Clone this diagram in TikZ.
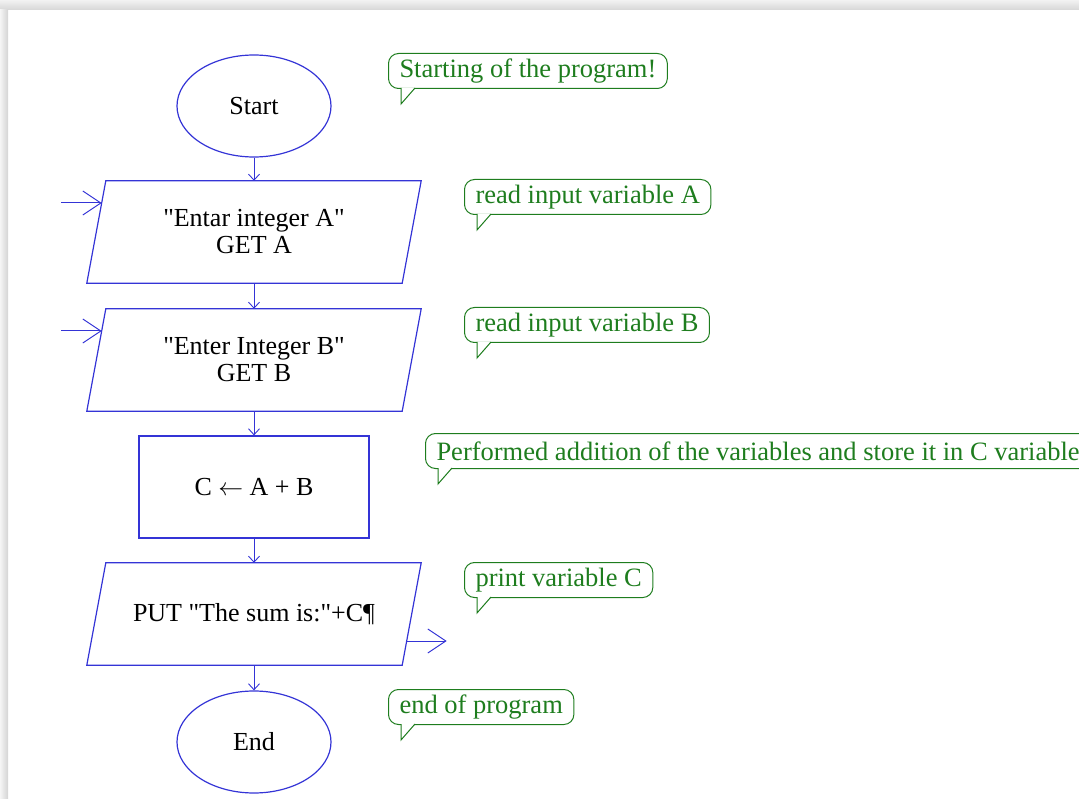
\documentclass[tikz,border=0pt]{standalone}
\usepackage{fontspec}
\setmainfont{Liberation Serif}[Ligatures=TeXOff]
\usepackage{xcolor}
\usepackage{tikz}
\usetikzlibrary{arrows.meta}
\usetikzlibrary{shapes.geometric}

\definecolor{flowblue}{RGB}{52,52,214}
\definecolor{notegreen}{RGB}{30,125,30}

\tikzset{
  every node/.style={font=\fontsize{26}{27}\selectfont},
  term/.style={ellipse, draw=flowblue, line width=1.2pt, minimum width=154pt, minimum height=102pt},
  io/.style={rectangle, minimum width=315pt, minimum height=102pt, align=center},
  iobox/.style={draw=flowblue, line width=1.2pt},
  proc/.style={rectangle, draw=flowblue, line width=1.2pt, minimum width=230pt, minimum height=102pt},
  flow/.style={draw=flowblue, line width=0.9pt, -{Straight Barb[length=6pt,width=11pt]}},
  bigflow/.style={draw=flowblue, line width=1pt, -{Straight Barb[length=18pt,width=24pt]}},
  note/.style={rectangle, rounded corners=10pt, draw=notegreen, line width=1pt, text=notegreen,
    anchor=west, minimum height=35pt, inner xsep=11pt, inner ysep=2pt,
    font=\fontsize{26.5}{27}\selectfont},
  notetail/.style={draw=notegreen, fill=white, line width=1pt}
}
% slanted box around an io node
\newcommand{\iobox}[1]{%
  \draw[iobox] ([xshift=9.5pt]#1.north west) -- ([xshift=9.5pt]#1.north east)
    -- ([xshift=-9.5pt]#1.south east) -- ([xshift=-9.5pt]#1.south west) -- cycle;}
% little tail under the bottom left corner of a note
\newcommand{\notetail}[1]{%
  \filldraw[notetail] ([xshift=13pt,yshift=1pt]#1.south west) -- ([xshift=13pt,yshift=-15pt]#1.south west)
    -- ([xshift=27pt,yshift=1pt]#1.south west);}

\begin{document}
\begin{tikzpicture}[x=1pt, y=-1pt]
\useasboundingbox (0,0) rectangle (1079,799);
\clip (0,0) rectangle (1079,799);
% page shadow
\shade[top color=black!5, bottom color=black!16] (0,0) rectangle (1079,10);
\shade[left color=black!4, right color=black!17] (0,10) rectangle (8,799);

% flowchart
\node [term] (start) at (254,106) {Start};
\node [io] (getA) at (254,232) {"Entar integer A"\\GET A};
\node [io] (getB) at (254,360) {"Enter Integer B"\\GET B};
\node [proc] (calc) at (254,487) {C $\leftarrow$ A + B};
\node [io] (put) at (254,614) {PUT "The sum is:"+C¶};
\node [term] (stop) at (254,742) {End};
\iobox{getA}
\iobox{getB}
\iobox{put}

\draw [flow] (start) -- (getA);
\draw [flow] (getA) -- (getB);
\draw [flow] (getB) -- (calc);
\draw [flow] (calc) -- (put);
\draw [flow] (put) -- (stop);

\coordinate (inA) at ([xshift=-35pt,yshift=29pt]getA.west);
\coordinate (inB) at ([xshift=-35pt,yshift=29pt]getB.west);
\coordinate (outC) at ([xshift=35pt,yshift=-27pt]put.east);
\draw [bigflow] (inA) -- ([xshift=5.4pt,yshift=29pt]getA.west);
\draw [bigflow] (inB) -- ([xshift=5.4pt,yshift=29pt]getB.west);
\draw [bigflow] ([xshift=-5pt,yshift=-27pt]put.east) -- (outC);

% comments
\node [note] (nStart) at (388,71) {Starting of the program!};
\node [note] (nA) at (464,197) {read input variable A};
\node [note] (nB) at (464,325) {read input variable B};
\node [note] (nC) at (425,451) {Performed addition of the variables and store it in C variable};
\node [note] (nPut) at (464,580) {print variable C};
\node [note] (nEnd) at (388,707) {end of program};
\notetail{nStart}
\notetail{nA}
\notetail{nB}
\notetail{nC}
\notetail{nPut}
\notetail{nEnd}
\end{tikzpicture}
\end{document}
